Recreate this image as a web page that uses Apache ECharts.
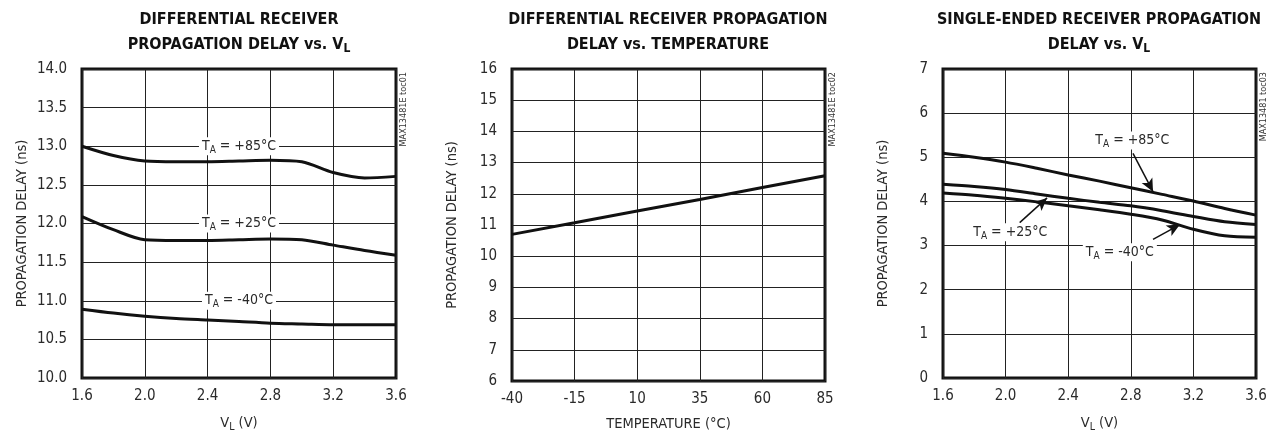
<!DOCTYPE html>
<html><head><meta charset="utf-8">
<script src="https://cdn.jsdelivr.net/npm/echarts@6/dist/echarts.min.js"></script>
<style>html,body{margin:0;padding:0;background:#fff}#c{width:1278px;height:438px}</style>
</head><body><div id="c"></div>
<script>
// ---- data ----
const vlSteps = [1.6, 1.8, 2.0, 2.2, 2.4, 2.6, 2.8, 3.0, 3.2, 3.4, 3.6];
const diff85 = [13.00, 12.88, 12.81, 12.80, 12.80, 12.81, 12.82, 12.80, 12.66, 12.59, 12.61];
const diff25 = [12.09, 11.92, 11.79, 11.78, 11.78, 11.79, 11.80, 11.79, 11.72, 11.65, 11.59];
const diffM40 = [10.89, 10.84, 10.80, 10.77, 10.75, 10.73, 10.71, 10.70, 10.69, 10.69, 10.69];

const tempCats = ['-40', '-15', '10', '35', '60', '85'];
const tempDelay = [10.70, 11.07, 11.45, 11.82, 12.20, 12.58];

const se85 = [5.09, 5.00, 4.89, 4.75, 4.60, 4.46, 4.31, 4.16, 4.01, 3.84, 3.69];
const se25 = [4.39, 4.34, 4.27, 4.17, 4.07, 3.98, 3.90, 3.79, 3.66, 3.54, 3.48];
const seM40 = [4.19, 4.14, 4.07, 3.99, 3.90, 3.81, 3.71, 3.58, 3.37, 3.22, 3.19];

const yTicksDiff = [10.0, 14.0, 0.5];
const yTicksTemp = [6, 16, 1];
const yTicksSe = [0, 7, 1];
const xTicksVL = [1.6, 3.6, 0.4];

const titles = [
  'DIFFERENTIAL RECEIVER\nPROPAGATION DELAY vs. V{s|L}',
  'DIFFERENTIAL RECEIVER PROPAGATION\nDELAY vs. TEMPERATURE',
  'SINGLE-ENDED RECEIVER PROPAGATION\nDELAY vs. V{s|L}'
];
const tocs = ['MAX13481E toc01', 'MAX13481E toc02', 'MAX13481 toc03'];

// ---- styling ----
const NARROW = '"Liberation Sans Narrow","DejaVu Sans Condensed","Roboto",sans-serif';
const TXT = '#2a2a2a';
const grids = [
  {left: 82, top: 69, width: 314, height: 312},
  {left: 512, top: 69, width: 313, height: 312},
  {left: 943, top: 69, width: 313, height: 312}
];
const zip = (xs, ys) => xs.map((x, i) => [x, ys[i]]);
const labRich = {
  a: {fontFamily: NARROW, fontSize: 14, color: TXT},
  s: {fontFamily: NARROW, fontSize: 10, color: TXT, padding: [8, 0, 0, 0]}
};
function tLabel(temp) { return '{a|T}{s|A}{a| = ' + temp + '°C}'; }
function mp(coord, text) {
  return {coord: coord, symbol: 'circle', symbolSize: 0,
    label: {show: true, position: 'inside', formatter: text, rich: labRich,
      backgroundColor: '#fff', padding: [0, 3, 0, 3]}};
}
function arrow(a, b) { return [{coord: a}, {coord: b}]; }

function valueX(gi, name) {
  return {type: 'value', gridIndex: gi, min: xTicksVL[0], max: xTicksVL[1], interval: xTicksVL[2],
    axisLine: {show: false}, axisTick: {show: false},
    splitLine: {show: true, lineStyle: {color: '#222', width: 1}},
    axisLabel: {fontFamily: NARROW, fontSize: 15, color: TXT, margin: 11, formatter: v => v.toFixed(1)},
    name: name, nameLocation: 'middle', nameGap: 36,
    nameTextStyle: {fontFamily: NARROW, fontSize: 14.5, color: TXT, rich: {s: {fontFamily: NARROW, fontSize: 10.5, color: TXT, padding: [8, 0, 0, 0]}}}};
}
function valueY(gi, t, dec) {
  return {type: 'value', gridIndex: gi, min: t[0], max: t[1], interval: t[2],
    axisLine: {show: false}, axisTick: {show: false},
    splitLine: {show: true, lineStyle: {color: '#222', width: 1}},
    axisLabel: {fontFamily: NARROW, fontSize: 15, color: TXT, margin: 15, formatter: v => v.toFixed(dec)},
    name: 'PROPAGATION DELAY (ns)', nameLocation: 'middle', nameGap: 52,
    nameTextStyle: {fontFamily: NARROW, fontSize: 14.5, color: TXT}};
}
const lineBase = {type: 'line', showSymbol: false, symbol: 'none', smooth: 0.3,
  lineStyle: {color: '#111', width: 3}, silent: true, z: 5};
const arrowLine = {silent: true, symbol: ['none', 'arrow'], symbolSize: [9, 13],
  lineStyle: {color: '#111', width: 1.5, type: 'solid'}, label: {show: false}};

const chart = echarts.init(document.getElementById('c'), null, {renderer: 'canvas'});
const titleCenters = [234, 663, 1094];
chart.setOption({
  animation: false,
  backgroundColor: '#fff',
  title: titles.map((t, i) => ({
    text: t, left: titleCenters[i], top: 2, textAlign: 'center',
    textStyle: {fontFamily: NARROW, fontWeight: 'bold', fontSize: 16, color: '#111', lineHeight: 25,
      rich: {s: {fontFamily: NARROW, fontWeight: 'bold', fontSize: 12, color: '#111', padding: [8, 0, 0, 0]}}}
  })),
  grid: grids.map(g => Object.assign({show: true, borderColor: '#111', borderWidth: 3, backgroundColor: '#fff'}, g)),
  xAxis: [
    valueX(0, 'V{s|L} (V)'),
    {type: 'category', gridIndex: 1, data: tempCats, boundaryGap: false,
      axisLine: {show: false}, axisTick: {show: false},
      splitLine: {show: true, lineStyle: {color: '#222', width: 1}},
      axisLabel: {fontFamily: NARROW, fontSize: 15, color: TXT, margin: 11, interval: 0},
      name: 'TEMPERATURE (°C)', nameLocation: 'middle', nameGap: 36,
      nameTextStyle: {fontFamily: NARROW, fontSize: 14.5, color: TXT}},
    valueX(2, 'V{s|L} (V)')
  ],
  yAxis: [valueY(0, yTicksDiff, 1), valueY(1, yTicksTemp, 0), valueY(2, yTicksSe, 0)],
  graphic: tocs.map((t, i) => ({
    type: 'text', x: grids[i].left + grids[i].width + 8, y: 72, rotation: Math.PI / 2,
    style: {text: t, fontFamily: NARROW, fontSize: 9, fill: '#333', align: 'right', verticalAlign: 'middle'}
  })),
  series: [
    Object.assign({}, lineBase, {xAxisIndex: 0, yAxisIndex: 0, data: zip(vlSteps, diff85),
      markPoint: {silent: true, data: [mp([2.6, 13.0], tLabel('+85'))]}}),
    Object.assign({}, lineBase, {xAxisIndex: 0, yAxisIndex: 0, data: zip(vlSteps, diff25),
      markPoint: {silent: true, data: [mp([2.6, 12.0], tLabel('+25'))]}}),
    Object.assign({}, lineBase, {xAxisIndex: 0, yAxisIndex: 0, data: zip(vlSteps, diffM40),
      markPoint: {silent: true, data: [mp([2.6, 11.0], tLabel('-40'))]}}),
    Object.assign({}, lineBase, {xAxisIndex: 1, yAxisIndex: 1, smooth: false, data: tempDelay}),
    Object.assign({}, lineBase, {xAxisIndex: 2, yAxisIndex: 2, data: zip(vlSteps, se85),
      markPoint: {silent: true, data: [mp([2.81, 5.38], tLabel('+85'))]},
      markLine: Object.assign({}, arrowLine, {data: [arrow([2.814, 5.09], [2.942, 4.22])]})}),
    Object.assign({}, lineBase, {xAxisIndex: 2, yAxisIndex: 2, data: zip(vlSteps, se25),
      markPoint: {silent: true, data: [mp([2.03, 3.30], tLabel('+25'))]},
      markLine: Object.assign({}, arrowLine, {data: [arrow([2.09, 3.52], [2.265, 4.08])]})}),
    Object.assign({}, lineBase, {xAxisIndex: 2, yAxisIndex: 2, data: zip(vlSteps, seM40),
      markPoint: {silent: true, data: [mp([2.73, 2.85], tLabel('-40'))]},
      markLine: Object.assign({}, arrowLine, {data: [arrow([2.942, 3.14], [3.114, 3.475])]})})
  ]
});
</script></body></html>
